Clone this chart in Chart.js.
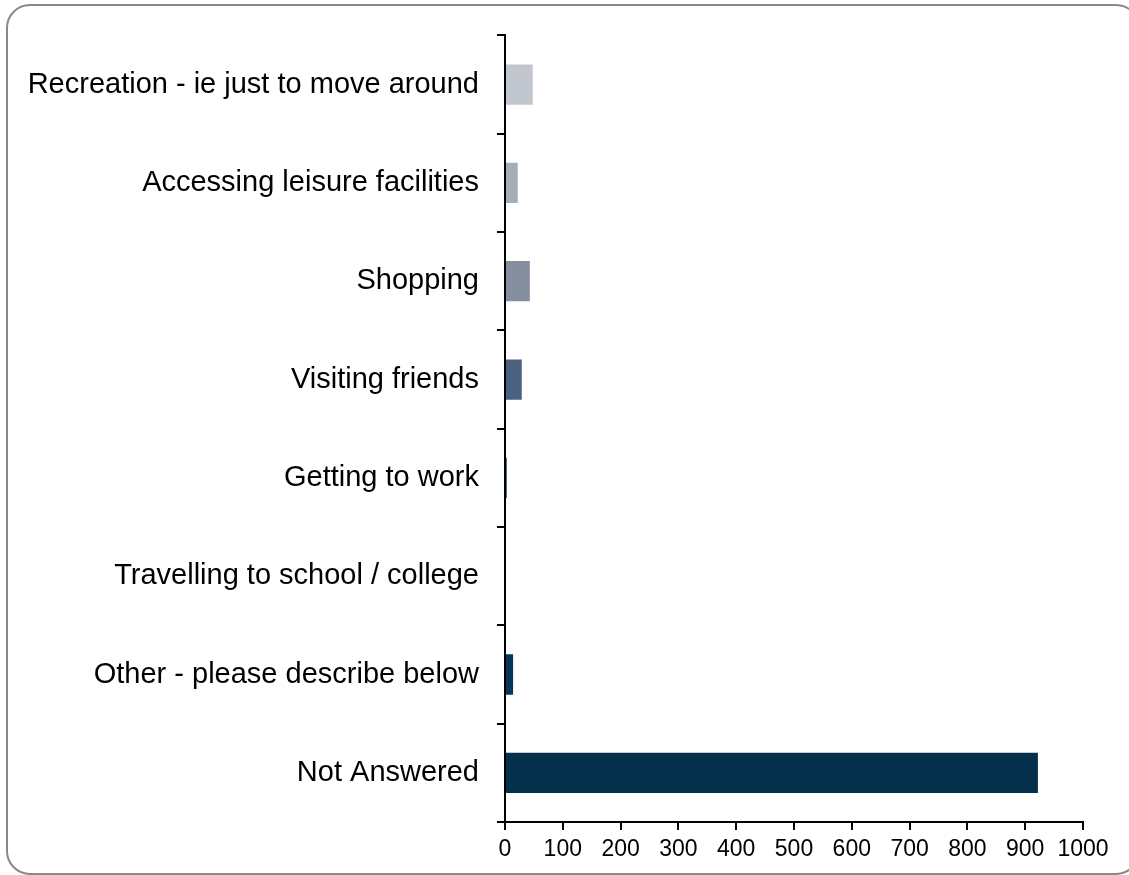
<!DOCTYPE html>
<html>
<head>
<meta charset="utf-8">
<script src="https://cdn.jsdelivr.net/npm/chart.js@4"></script>
<style>
  html, body { margin: 0; padding: 0; background: #fff; overflow: hidden; }
  .frame {
    position: absolute; left: 6px; top: 4px; width: 1134px; height: 871px;
    box-sizing: border-box; border: 2px solid #888; border-radius: 24px;
  }
  .wrap { position: absolute; left: 0; top: 0; width: 1129px; height: 875px; }
</style>
</head>
<body>
<div class="frame"></div>
<div class="wrap"><canvas id="chart"></canvas></div>
<script>
// categories, top to bottom
const categories = [
    'Recreation - ie just to move around',
    'Accessing leisure facilities',
    'Shopping',
    'Visiting friends',
    'Getting to work',
    'Travelling to school / college',
    'Other - please describe below',
    'Not Answered',
];
const responses = [48, 22, 43, 29, 3, 0, 14, 922];
const barColours = ['#c1c6cf', '#a6adb9', '#858f9f', '#4a6180', '#0e3a5d', '#0a3658', '#06375a', '#05304b'];
const xTicks = [0, 100, 200, 300, 400, 500, 600, 700, 800, 900, 1000];

const font = 'Arial, "Liberation Sans", sans-serif';

new Chart(document.getElementById('chart'), {
    type: 'bar',
    data: {
        labels: categories,
        datasets: [{
            data: responses,
            backgroundColor: barColours,
            borderWidth: 0,
            barPercentage: 0.41,
            categoryPercentage: 1,
        }],
    },
    options: {
        indexAxis: 'y',
        responsive: true,
        maintainAspectRatio: false,
        animation: false,
        layout: { padding: { top: 33, right: 46, bottom: 0, left: 0 } },
        plugins: {
            legend: { display: false },
            tooltip: { enabled: false },
        },
        scales: {
            y: {
                offset: true,
                grid: {
                    offset: true,
                    drawOnChartArea: false,
                    drawTicks: true,
                    tickLength: 8,
                    color: '#000',
                    lineWidth: 2,
                },
                border: { color: '#000', width: 2 },
                ticks: {
                    color: '#000',
                    padding: 18,
                    font: { family: font, size: 29 },
                },
                afterFit: (scale) => { scale.width = 505; },
            },
            x: {
                min: 0,
                max: 1000,
                afterBuildTicks: (scale) => { scale.ticks = xTicks.map((v) => ({ value: v })); },
                grid: {
                    drawOnChartArea: false,
                    drawTicks: true,
                    tickLength: 8,
                    color: '#000',
                    lineWidth: 2,
                },
                border: { color: '#000', width: 2 },
                ticks: {
                    color: '#000',
                    padding: 6,
                    maxRotation: 0,
                    autoSkip: false,
                    font: { family: font, size: 23 },
                    callback: (v) => String(v),
                },
                afterFit: (scale) => { scale.height = 53; },
            },
        },
    },
});
</script>
</body>
</html>
